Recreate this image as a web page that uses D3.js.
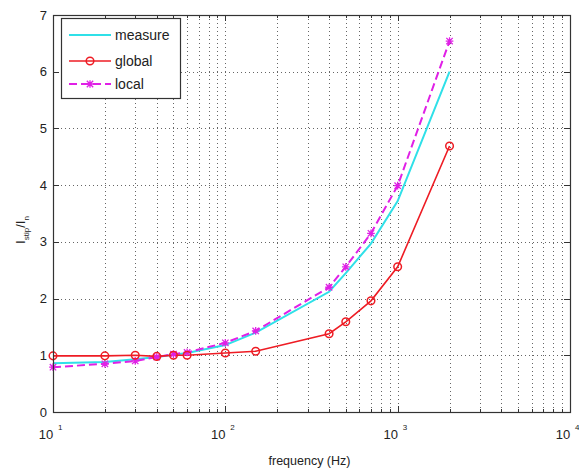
<!DOCTYPE html>
<html><head><meta charset="utf-8">
<script src="https://cdn.jsdelivr.net/npm/d3@7"></script>
<style>body{margin:0;background:#fff}svg{display:block}text{font-family:"Liberation Sans",Arial,sans-serif;fill:#222}</style>
</head><body><svg id="c" width="579" height="471"></svg>
<script>
const freqs = [10, 20, 30, 40, 50, 60, 100, 150, 400, 500, 700, 1000, 2000];
const measure = [0.86, 0.88, 0.93, 0.97, 1.01, 1.04, 1.18, 1.40, 2.12, 2.45, 2.97, 3.72, 6.0];
const globalV = [0.99, 0.99, 1.0, 0.98, 1.0, 1.0, 1.04, 1.07, 1.38, 1.59, 1.96, 2.56, 4.69];
const localV = [0.79, 0.85, 0.9, 0.97, 1.02, 1.05, 1.22, 1.43, 2.2, 2.56, 3.15, 3.99, 6.54];
const xDecades = [10, 100, 1000, 10000];
const xExponents = ["1", "2", "3", "4"];
const yTicks = [0, 1, 2, 3, 4, 5, 6, 7];
const seriesNames = ["measure", "global", "local"];
const colors = {measure: "#2fe0e8", global: "#ee1c24", local: "#e020e6"};

const svg = d3.select("#c");
const L = 53, R = 570, T = 15, B = 412;
const x = d3.scaleLog().domain([10, 10000]).range([L, R]);
const y = d3.scaleLinear().domain([0, 7]).range([B, T]);

// minor tick values
const minor = [];
for (let d = 10; d < 10000; d *= 10) for (let k = 2; k <= 9; k++) minor.push(d * k);

const grid = svg.append("g").attr("stroke", "#666").attr("stroke-width", 1).attr("stroke-dasharray", "1,3");
grid.selectAll(".gx").data(minor.concat(xDecades.slice(1, 3))).enter().append("line")
  .attr("x1", d => Math.round(x(d)) + 0.5).attr("x2", d => Math.round(x(d)) + 0.5).attr("y1", T).attr("y2", B);
grid.selectAll(".gy").data(yTicks.slice(1, -1)).enter().append("line")
  .attr("y1", d => Math.round(y(d)) + 0.5).attr("y2", d => Math.round(y(d)) + 0.5).attr("x1", L).attr("x2", R);

// ticks inside
const tk = svg.append("g").attr("stroke", "#333").attr("stroke-width", 1);
xDecades.forEach(d => {
  const px = Math.round(x(d)) + 0.5;
  tk.append("line").attr("x1", px).attr("x2", px).attr("y1", B).attr("y2", B - 6);
  tk.append("line").attr("x1", px).attr("x2", px).attr("y1", T).attr("y2", T + 6);
});
minor.forEach(d => {
  const px = Math.round(x(d)) + 0.5;
  tk.append("line").attr("x1", px).attr("x2", px).attr("y1", B).attr("y2", B - 3);
  tk.append("line").attr("x1", px).attr("x2", px).attr("y1", T).attr("y2", T + 3);
});
yTicks.forEach(d => {
  const py = Math.round(y(d)) + 0.5;
  tk.append("line").attr("x1", L).attr("x2", L + 6).attr("y1", py).attr("y2", py);
  tk.append("line").attr("x1", R).attr("x2", R - 6).attr("y1", py).attr("y2", py);
});

// series
const line = d3.line().x((d, i) => x(freqs[i])).y(d => y(d));
svg.append("path").datum(measure).attr("d", line).attr("fill", "none")
  .attr("stroke", colors.measure).attr("stroke-width", 2);
svg.append("path").datum(localV).attr("d", line).attr("fill", "none")
  .attr("stroke", colors.local).attr("stroke-width", 2).attr("stroke-dasharray", "8,4");
svg.append("path").datum(globalV).attr("d", line).attr("fill", "none")
  .attr("stroke", colors.global).attr("stroke-width", 1.6);

function star(g, cx, cy, s, col) {
  const p = `M${cx-s},${cy-s}L${cx+s},${cy+s}M${cx-s},${cy+s}L${cx+s},${cy-s}M${cx},${cy-s*1.2}L${cx},${cy+s*1.2}M${cx-s*1.2},${cy}L${cx+s*1.2},${cy}`;
  g.append("path").attr("d", p).attr("stroke", col).attr("stroke-width", 1.3).attr("fill", "none");
}
const mk = svg.append("g");
localV.forEach((v, i) => star(mk, x(freqs[i]), y(v), 3.2, colors.local));
mk.selectAll("circle").data(globalV).enter().append("circle")
  .attr("cx", (d, i) => x(freqs[i])).attr("cy", d => y(d)).attr("r", 3.8)
  .attr("fill", "none").attr("stroke", colors.global).attr("stroke-width", 1.5);

// frame
svg.append("rect").attr("x", L + 0.5).attr("y", T + 0.5).attr("width", R - L).attr("height", B - T)
  .attr("fill", "none").attr("stroke", "#333").attr("stroke-width", 1.2);

// tick labels
yTicks.forEach(d => {
  svg.append("text").attr("x", L - 6).attr("y", y(d) + 4.5).attr("text-anchor", "end")
    .attr("font-size", 13).text(d);
});
xDecades.forEach((d, i) => {
  const t = svg.append("text").attr("x", x(d) - 7).attr("y", B + 27).attr("text-anchor", "middle").attr("font-size", 13);
  t.append("tspan").text("10");
  svg.append("text").attr("x", x(d) + 5).attr("y", B + 18).attr("font-size", 8).text(xExponents[i]);
});

svg.append("text").attr("x", (L + R) / 2 - 2).attr("y", 465).attr("text-anchor", "middle")
  .attr("font-size", 12.5).text("frequency (Hz)");

const yl = svg.append("text").attr("transform", "translate(25,230) rotate(-90)").attr("text-anchor", "middle").attr("font-size", 13);
yl.append("tspan").text("I");
yl.append("tspan").attr("font-size", 8).attr("dy", 4).text("stip");
yl.append("tspan").attr("dy", -4).text("/I");
yl.append("tspan").attr("font-size", 8).attr("dy", 4).text("n");

// legend
const lg = svg.append("g");
lg.append("rect").attr("x", 61.5).attr("y", 18.5).attr("width", 119).attr("height", 80)
  .attr("fill", "#fff").attr("stroke", "#333").attr("stroke-width", 1.2);
const ly = [35, 61, 84];
seriesNames.forEach((n, i) => {
  const g = lg.append("g");
  const ln = g.append("line").attr("x1", 69).attr("x2", 111).attr("y1", ly[i]).attr("y2", ly[i])
    .attr("stroke", colors[n]).attr("stroke-width", n === "global" ? 1.6 : 2);
  if (n === "local") ln.attr("stroke-dasharray", "8,4");
  if (n === "global") g.append("circle").attr("cx", 90).attr("cy", ly[i]).attr("r", 3.8)
    .attr("fill", "none").attr("stroke", colors.global).attr("stroke-width", 1.5);
  if (n === "local") star(g, 90, ly[i], 3.2, colors.local);
  g.append("text").attr("x", 115).attr("y", ly[i] + 5).attr("font-size", 14).text(n);
});
</script></body></html>
